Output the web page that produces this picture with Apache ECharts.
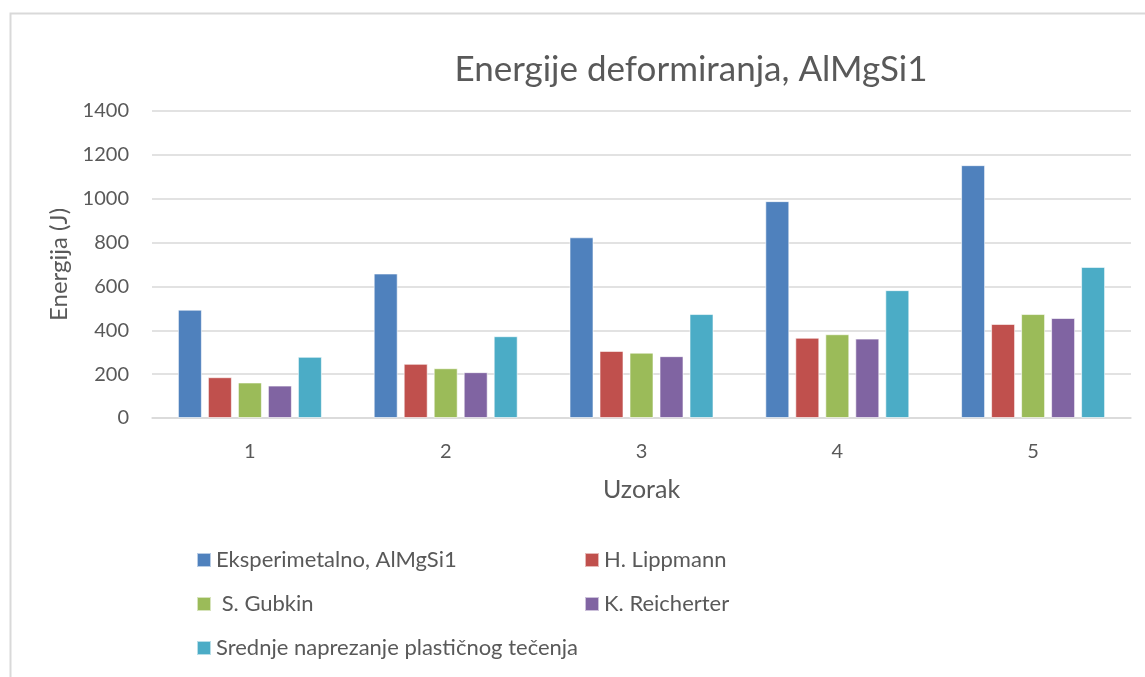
<!DOCTYPE html>
<html>
<head>
<meta charset="utf-8">
<script src="https://cdn.jsdelivr.net/npm/echarts@6/dist/echarts.min.js"></script>
<style>
html,body{margin:0;padding:0;background:#fff;}
#c{width:1145px;height:677px;}
</style>
</head>
<body>
<div id="c"></div>
<script>
const categories = ['1', '2', '3', '4', '5'];
const seriesNames = ['Eksperimetalno, AlMgSi1', 'H. Lippmann', ' S. Gubkin', 'K. Reicherter', 'Srednje naprezanje plastičnog tečenja'];
const eksperimentalno = [494, 659, 824, 989, 1153];
const lippmann = [186, 247, 306, 366, 429];
const gubkin = [162, 227, 298, 382, 474];
const reicherter = [148, 209, 282, 362, 456];
const srednje = [279, 373, 474, 583, 689];
const yTicks = [0, 200, 400, 600, 800, 1000, 1200, 1400];

const colors = ['#4F81BD', '#C0504D', '#9BBB59', '#8064A2', '#4BACC6'];
const values = [eksperimentalno, lippmann, gubkin, reicherter, srednje];
const FONT = 'Lato, "Open Sans", sans-serif';
const TXT = '#595959';

const legendText = {fontFamily: FONT, fontSize: 22, color: TXT, lineHeight: 24};

const chart = echarts.init(document.getElementById('c'), null, {renderer: 'canvas'});
const option = {
  backgroundColor: '#fff',
  animation: false,
  color: colors,
  title: {
    text: 'Energije deformiranja, AlMgSi1',
    left: 686, top: 47,
    textAlign: 'center',
    textStyle: {fontFamily: FONT, fontSize: 35, fontWeight: 'normal', color: TXT}
  },
  graphic: [{
    type: 'rect', left: 8, top: 11, silent: true,
    shape: {width: 1200, height: 700},
    style: {fill: 'none', stroke: '#D9D9D9', lineWidth: 2}
  }],
  legend: [{
    orient: 'vertical', left: 196, top: 548, padding: 0,
    data: [seriesNames[0], seriesNames[2], seriesNames[4]],
    itemWidth: 14, itemHeight: 14, itemGap: 20,
    icon: 'rect',
    textStyle: legendText
  }, {
    orient: 'vertical', left: 584, top: 548, padding: 0,
    data: [seriesNames[1], seriesNames[3]],
    itemWidth: 14, itemHeight: 14, itemGap: 20,
    icon: 'rect',
    textStyle: legendText
  }],
  grid: {left: 152, right: 14, top: 111, bottom: 259, containLabel: false},
  xAxis: {
    type: 'category', data: categories,
    name: 'Uzorak', nameLocation: 'middle', nameGap: 59,
    nameTextStyle: {fontFamily: FONT, fontSize: 25, color: TXT},
    axisLine: {show: true, lineStyle: {color: '#D9D9D9', width: 1.5}},
    axisTick: {show: false},
    axisLabel: {fontFamily: FONT, fontSize: 20, color: TXT, margin: 24}
  },
  yAxis: {
    type: 'value', min: yTicks[0], max: yTicks[yTicks.length - 1], interval: 200,
    name: 'Energija (J)', nameLocation: 'middle', nameGap: 79, nameRotate: 90,
    nameTextStyle: {fontFamily: FONT, fontSize: 24, color: TXT},
    axisLine: {show: false}, axisTick: {show: false},
    splitLine: {lineStyle: {color: '#D9D9D9', width: 1.5}},
    axisLabel: {fontFamily: FONT, fontSize: 20, color: TXT, margin: 23, formatter: v => String(v)}
  },
  series: seriesNames.map((n, i) => ({
    name: n, type: 'bar', data: values[i],
    barWidth: 24, barGap: '25%',
    itemStyle: {color: colors[i], borderColor: 'rgba(255,255,255,0.6)', borderWidth: 1}
  }))
};
chart.setOption(option);
</script>
</body>
</html>
